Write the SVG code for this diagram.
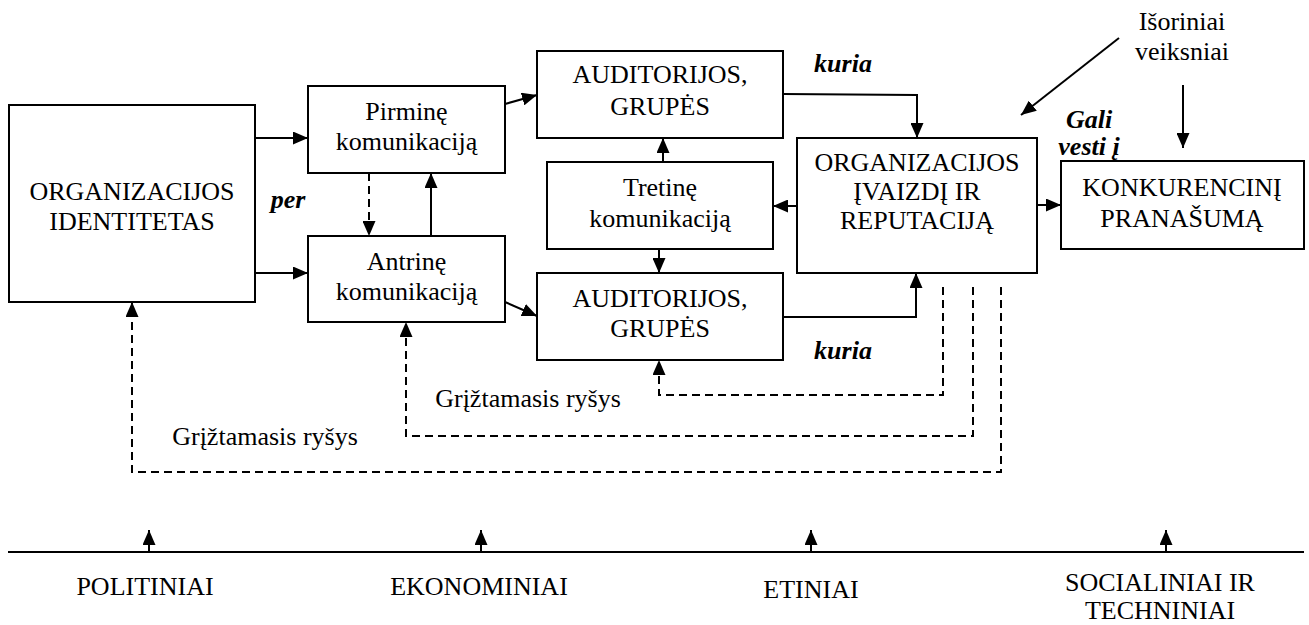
<svg xmlns="http://www.w3.org/2000/svg" width="1309" height="625" viewBox="0 0 1309 625">
<style>
.box{fill:#fff;stroke:#000;stroke-width:2}
.t{font-family:"Liberation Serif","Times New Roman",serif;font-size:26px;fill:#000;text-anchor:middle}
.bi{font-family:"Liberation Serif","Times New Roman",serif;font-size:26px;font-weight:bold;font-style:italic;fill:#000;text-anchor:middle}
.ln{fill:none;stroke:#000;stroke-width:2}
.ar{fill:none;stroke:#000;stroke-width:2;marker-end:url(#ah)}
.da{fill:none;stroke:#000;stroke-width:2;stroke-dasharray:8,5}
.dar{fill:none;stroke:#000;stroke-width:2;stroke-dasharray:8,5;marker-end:url(#ah)}
</style>
<defs>
<marker id="ah" markerUnits="userSpaceOnUse" markerWidth="15" markerHeight="13" refX="15" refY="6.5" orient="auto">
<path d="M0,0 L15,6.5 L0,13 z" fill="#000"/>
</marker>
</defs>
<rect width="1309" height="625" fill="#fff"/>

<g id="connectors">
<line class="ar" x1="255" y1="138" x2="308" y2="138"/>
<line class="ar" x1="255" y1="273" x2="308" y2="273"/>
<line class="dar" x1="369" y1="173" x2="369" y2="236"/>
<line class="ar" x1="431" y1="236" x2="431" y2="173"/>
<line class="ar" x1="505" y1="104" x2="537" y2="95"/>
<line class="ar" x1="505" y1="302" x2="537" y2="316"/>
<line class="ar" x1="663" y1="162" x2="663" y2="138"/>
<line class="ar" x1="659" y1="249" x2="659" y2="273"/>
<polyline class="ar" points="783,94 917,95 917,138"/>
<polyline class="ar" points="783,317 916,317 916,273"/>
<line class="ar" x1="797" y1="206" x2="773" y2="206"/>
<line class="ar" x1="1037" y1="205" x2="1061" y2="205"/>
<line class="ar" x1="1119" y1="38" x2="1021" y2="115"/>
<line class="ar" x1="1183" y1="85" x2="1183" y2="148"/>
<polyline class="dar" points="943,287 943,395 659,395 659,360"/>
<polyline class="dar" points="973,287 973,436 406,436 406,322"/>
<polyline class="dar" points="1001,287 1001,472 132,472 132,302"/>
<line class="ln" x1="8" y1="552" x2="1304" y2="552" stroke-width="2.5"/>
<line class="ar" x1="149" y1="552" x2="149" y2="530"/>
<line class="ar" x1="481" y1="552" x2="481" y2="530"/>
<line class="ar" x1="811" y1="552" x2="811" y2="530"/>
<line class="ar" x1="1166" y1="552" x2="1166" y2="530"/>
</g>

<g id="identitetas">
<rect class="box" x="9" y="105" width="246" height="197"/>
<text class="t" x="132" y="200">ORGANIZACIJOS</text>
<text class="t" x="132" y="230">IDENTITETAS</text>
</g>
<g id="pirmine">
<rect class="box" x="308" y="86" width="197" height="87"/>
<text class="t" x="406.5" y="120">Pirminę</text>
<text class="t" x="406.5" y="150">komunikaciją</text>
</g>
<g id="antrine">
<rect class="box" x="308" y="236" width="197" height="86"/>
<text class="t" x="406.5" y="270">Antrinę</text>
<text class="t" x="406.5" y="300">komunikaciją</text>
</g>
<g id="auditorijos1">
<rect class="box" x="537" y="51" width="246" height="87"/>
<text class="t" x="660" y="83">AUDITORIJOS,</text>
<text class="t" x="660" y="115">GRUPĖS</text>
</g>
<g id="tretine">
<rect class="box" x="547" y="162" width="226" height="87"/>
<text class="t" x="660" y="196">Tretinę</text>
<text class="t" x="660" y="227">komunikaciją</text>
</g>
<g id="auditorijos2">
<rect class="box" x="537" y="273" width="246" height="87"/>
<text class="t" x="660" y="307">AUDITORIJOS,</text>
<text class="t" x="660" y="337">GRUPĖS</text>
</g>
<g id="ivaizdis">
<rect class="box" x="797" y="138" width="240" height="135"/>
<text class="t" x="917" y="171">ORGANIZACIJOS</text>
<text class="t" x="917" y="200">ĮVAIZDĮ IR</text>
<text class="t" x="917" y="229">REPUTACIJĄ</text>
</g>
<g id="konkurencinis">
<rect class="box" x="1061" y="161" width="243" height="88"/>
<text class="t" x="1182" y="196">KONKURENCINĮ</text>
<text class="t" x="1182" y="227">PRANAŠUMĄ</text>
</g>

<g id="labels">
<text class="bi" x="288" y="208">per</text>
<text class="bi" x="843" y="72">kuria</text>
<text class="bi" x="843" y="359">kuria</text>
<text class="bi" x="1089" y="128">Gali</text>
<text class="bi" x="1089" y="155">vesti į</text>
<text class="t" x="1182" y="30">Išoriniai</text>
<text class="t" x="1182" y="60">veiksniai</text>
<text class="t" x="528" y="407">Grįžtamasis ryšys</text>
<text class="t" x="265" y="445">Grįžtamasis ryšys</text>
<text class="t" x="145" y="595">POLITINIAI</text>
<text class="t" x="479" y="595">EKONOMINIAI</text>
<text class="t" x="811" y="598">ETINIAI</text>
<text class="t" x="1160" y="591">SOCIALINIAI IR</text>
<text class="t" x="1160" y="619">TECHNINIAI</text>
</g>
</svg>
